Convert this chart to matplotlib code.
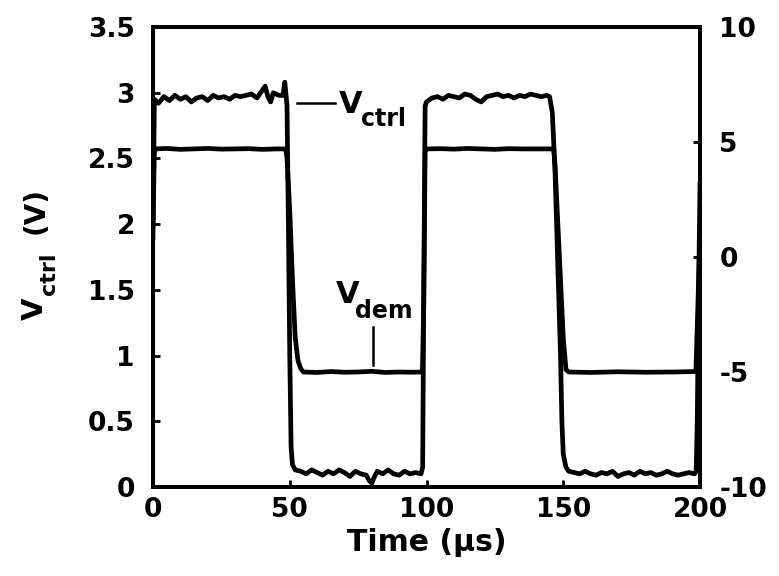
import matplotlib
matplotlib.use("Agg")
import matplotlib.pyplot as plt

plt.rcParams['font.family'] = ['DejaVu Sans']
plt.rcParams['font.weight'] = 'bold'
plt.rcParams['axes.unicode_minus'] = False

# ---- data ----
t_ctrl = [0, 0.5, 2, 4, 6, 8, 10, 12, 14, 16, 18, 20, 22, 24, 26, 28, 30, 32, 34, 36, 38,
          40, 41, 42, 43, 44, 46, 47.5, 48.2, 49, 49.5, 50, 50.5, 51, 52, 54, 56, 58, 60,
          62, 64, 66, 68, 70, 72, 74, 76, 78, 79, 80, 81, 82, 84, 86, 88, 90, 92, 94, 96,
          98, 98.6, 99, 99.5, 100, 102, 104, 106, 108, 110, 112, 114, 116, 118, 120, 122,
          124, 126, 128, 130, 132, 134, 136, 138, 140, 142, 144, 145, 146, 147, 148, 149,
          149.5, 150, 151, 152, 154, 156, 158, 160, 162, 164, 166, 168, 170, 172, 174,
          176, 178, 180, 182, 184, 186, 188, 190, 192, 194, 196, 198, 198.6, 199, 199.5, 200]
v_ctrl = [1.9, 2.95, 2.92, 2.97, 2.94, 2.98, 2.95, 2.97, 2.93, 2.96, 2.97, 2.94, 2.98, 2.96,
          2.97, 2.95, 2.98, 2.97, 2.98, 2.99, 2.96, 3.02, 3.05, 2.97, 2.93, 3.0, 2.98, 2.98,
          3.08, 2.9, 2.0, 1.0, 0.3, 0.17, 0.13, 0.12, 0.1, 0.13, 0.11, 0.09, 0.12, 0.1, 0.13,
          0.11, 0.08, 0.12, 0.1, 0.09, 0.05, 0.03, 0.08, 0.12, 0.1, 0.13, 0.1, 0.09, 0.12,
          0.1, 0.11, 0.1, 0.15, 1.5, 2.9, 2.93, 2.96, 2.97, 2.95, 2.98, 2.97, 2.96, 2.99,
          2.98, 2.95, 2.93, 2.97, 2.98, 2.99, 2.97, 2.98, 2.96, 2.98, 2.97, 2.99, 2.98, 2.97,
          2.98, 2.97, 2.85, 2.4, 1.7, 1.0, 0.5, 0.25, 0.15, 0.12, 0.11, 0.1, 0.12, 0.1, 0.09,
          0.11, 0.1, 0.12, 0.08, 0.1, 0.11, 0.09, 0.12, 0.1, 0.11, 0.09, 0.1, 0.12, 0.1, 0.09,
          0.1, 0.11, 0.1, 0.12, 0.5, 1.5, 2.3]

t_dem = [0, 0.5, 1, 5, 10, 15, 20, 25, 30, 35, 40, 45, 48.5, 49, 50, 51, 52, 53, 54, 55,
         60, 65, 70, 75, 80, 85, 90, 95, 98.5, 99, 99.5, 100, 105, 110, 115, 120, 125, 130,
         135, 140, 146.5, 147, 148, 149, 150, 151, 152, 160, 170, 180, 190, 198.5, 199, 200]
v_dem = [1.4, 4.6, 4.7, 4.72, 4.68, 4.7, 4.72, 4.69, 4.7, 4.71, 4.68, 4.7, 4.7, 4.3, 2.0,
         -1.0, -3.5, -4.5, -4.85, -5.0, -5.02, -4.98, -5.01, -5.0, -4.97, -5.02, -5.0,
         -5.01, -5.0, -2.0, 4.6, 4.7, 4.71, 4.69, 4.72, 4.7, 4.68, 4.71, 4.7, 4.7, 4.7, 4.0,
         1.5, -1.0, -3.5, -4.9, -5.0, -5.02, -4.99, -5.01, -5.0, -4.98, -3.0, 1.0]

xticks = [0, 50, 100, 150, 200]
yticks_left = [0, 0.5, 1, 1.5, 2, 2.5, 3, 3.5]
ytick_left_labels = ['0', '0.5', '1', '1.5', '2', '2.5', '3', '3.5']
yticks_right = [-10, -5, 0, 5, 10]

W, H = 779, 576
fig = plt.figure(figsize=(W / 100, H / 100), dpi=100)
ax = fig.add_axes([153 / W, 1 - 487 / H, 547 / W, 460 / H])
ax2 = ax.twinx()

ax.plot(t_ctrl, v_ctrl, color='black', lw=3.4, solid_joinstyle='round')
ax2.plot(t_dem, v_dem, color='black', lw=3.4, solid_joinstyle='round')

ax.set_xlim(0, 200)
ax.set_ylim(0, 3.5)
ax2.set_ylim(-10, 10)
ax.set_xticks(xticks)
ax.set_yticks(yticks_left)
ax.set_yticklabels(ytick_left_labels)
ax2.set_yticks(yticks_right)

for a in (ax, ax2):
    for s in a.spines.values():
        s.set_linewidth(2.8)
ax.tick_params(axis='both', direction='in', length=5, width=2, labelsize=19)
ax.tick_params(axis='y', pad=13)
ax.tick_params(axis='x', pad=7)
ax2.tick_params(axis='y', direction='in', length=5, width=2, labelsize=19, pad=14)

ax.set_xlabel('Time (\u03bcs)', fontsize=21.5, fontweight='bold', labelpad=4)


def px(x, y):
    return x / W, 1 - y / H


# y label: V_ctrl (V), rotated
kw = dict(rotation=90, rotation_mode='anchor', ha='left', va='baseline',
          fontweight='bold', transform=fig.transFigure)
fig.text(*px(43, 320), 'V', fontsize=21, **kw)
fig.text(*px(55, 295), 'ctrl', fontsize=16, **kw)
fig.text(*px(44, 234), '(V)', fontsize=20, **kw)

# in-plot labels
kw2 = dict(ha='left', va='baseline', fontweight='bold', transform=fig.transFigure)
fig.text(*px(339, 113), 'V', fontsize=22, **kw2)
fig.text(*px(361, 126), 'ctrl', fontsize=17, **kw2)
fig.text(*px(336, 303), 'V', fontsize=22, **kw2)
fig.text(*px(355, 318), 'dem', fontsize=17, **kw2)

ax.plot([52.5, 66.5], [2.92, 2.92], color='black', lw=1.8)
ax.plot([80.4, 80.4], [0.93, 1.22], color='black', lw=1.8)

fig.savefig('out.png', dpi=100)
